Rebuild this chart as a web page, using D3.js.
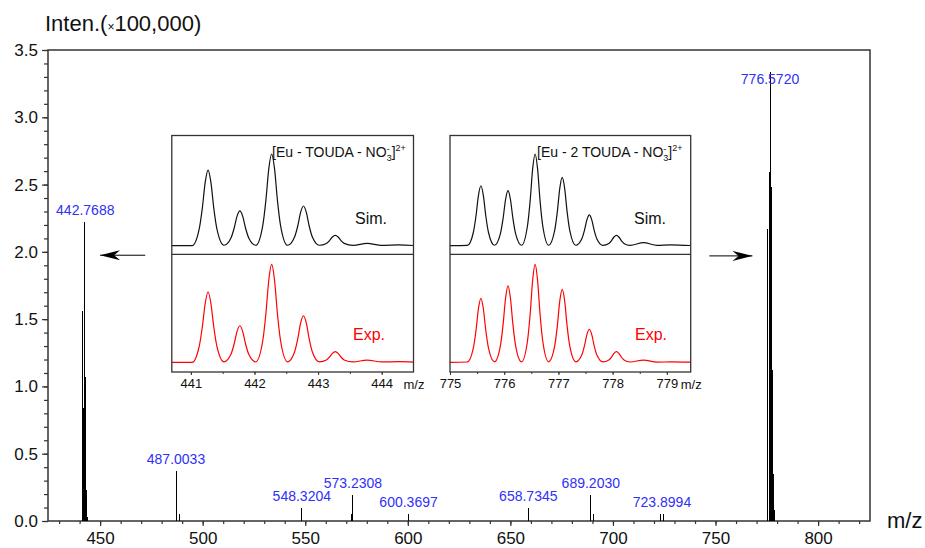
<!DOCTYPE html>
<html>
<head>
<meta charset="utf-8">
<script src="https://cdn.jsdelivr.net/npm/d3@7"></script>
<style>
  body { margin: 0; background: #fff; }
  svg { display: block; }
  text { font-family: "Liberation Sans", Arial, Helvetica, sans-serif; }
</style>
</head>
<body>
<div id="chart"></div>
<script>
// main spectrum, sticks (m/z, intensity x100,000)
const mzMain  = [441.27, 441.77, 442.27, 442.77, 443.27, 443.77, 487.00, 488.70, 548.32, 572.40, 573.23, 600.37,
                 658.73, 689.20, 690.30, 723.40, 724.40, 775.57, 776.07, 776.57, 777.07, 777.57, 778.07, 778.57];
const intMain = [1.56, 0.84, 2.22, 1.07, 0.23, 0.03, 0.37, 0.05, 0.10, 0.05, 0.19, 0.05,
                 0.10, 0.19, 0.05, 0.05, 0.05, 2.17, 2.59, 3.34, 2.48, 1.12, 0.35, 0.08];

// peak labels and the height of the peak they sit on
const peakLabels = ["442.7688", "487.0033", "548.3204", "573.2308", "600.3697", "658.7345", "689.2030", "723.8994", "776.5720"];
const labelInt   = [2.22, 0.37, 0.10, 0.19, 0.05, 0.10, 0.19, 0.05, 3.34];

const xTicks = [450, 500, 550, 600, 650, 700, 750, 800];
const yTicks = [0, 0.5, 1.0, 1.5, 2.0, 2.5, 3.0, 3.5];

// inset 1 profiles (relative intensity)
const mzIn1 = [440.70, 441.02,
  441.13, 441.18, 441.225, 441.27, 441.315, 441.36, 441.41, 441.52,
  441.63, 441.68, 441.725, 441.77, 441.815, 441.86, 441.91, 442.02,
  442.13, 442.18, 442.225, 442.27, 442.315, 442.36, 442.41, 442.52,
  442.63, 442.68, 442.725, 442.77, 442.815, 442.86, 442.91, 443.02,
  443.13, 443.18, 443.225, 443.27, 443.315, 443.36, 443.41,
  443.55, 443.77, 444.00, 444.27, 444.50];
const simIn1 = [0, 0,
  0.18, 0.41, 0.69, 0.825, 0.69, 0.41, 0.18, 0.005,
  0.084, 0.19, 0.32, 0.38, 0.32, 0.19, 0.084, 0.005,
  0.22, 0.50, 0.84, 1.00, 0.84, 0.50, 0.22, 0.005,
  0.095, 0.215, 0.364, 0.433, 0.364, 0.215, 0.095, 0.005,
  0.025, 0.056, 0.095, 0.113, 0.095, 0.056, 0.025,
  0.004, 0.026, 0.004, 0.008, 0.002];
const expIn1 = [0, 0,
  0.16, 0.36, 0.60, 0.72, 0.60, 0.36, 0.16, 0.005,
  0.082, 0.187, 0.313, 0.373, 0.313, 0.187, 0.082, 0.005,
  0.22, 0.50, 0.84, 1.00, 0.84, 0.50, 0.22, 0.005,
  0.105, 0.238, 0.40, 0.475, 0.40, 0.238, 0.105, 0.005,
  0.024, 0.054, 0.091, 0.108, 0.091, 0.054, 0.024,
  0.004, 0.023, 0.004, 0.006, 0.002];
const ticksIn1 = [441, 442, 443, 444];

// inset 2 profiles (relative intensity)
const mzIn2 = [775.00, 775.32,
  775.43, 775.48, 775.525, 775.57, 775.615, 775.66, 775.71, 775.82,
  775.93, 775.98, 776.025, 776.07, 776.115, 776.16, 776.21, 776.32,
  776.43, 776.48, 776.525, 776.57, 776.615, 776.66, 776.71, 776.82,
  776.93, 776.98, 777.025, 777.07, 777.115, 777.16, 777.21, 777.32,
  777.43, 777.48, 777.525, 777.57, 777.615, 777.66, 777.71, 777.82,
  777.93, 777.98, 778.025, 778.07, 778.115, 778.16, 778.21,
  778.32, 778.57, 778.82, 779.07, 779.44];
const simIn2 = [0, 0.003,
  0.144, 0.327, 0.549, 0.654, 0.549, 0.327, 0.144, 0.005,
  0.132, 0.30, 0.504, 0.60, 0.504, 0.30, 0.132, 0.005,
  0.22, 0.50, 0.84, 1.00, 0.84, 0.50, 0.22, 0.005,
  0.164, 0.372, 0.626, 0.745, 0.626, 0.372, 0.164, 0.005,
  0.074, 0.168, 0.282, 0.336, 0.282, 0.168, 0.074, 0.004,
  0.025, 0.056, 0.095, 0.113, 0.095, 0.056, 0.025,
  0.003, 0.033, 0.003, 0.01, 0.002];
const expIn2 = [0, 0.003,
  0.144, 0.327, 0.549, 0.653, 0.549, 0.327, 0.144, 0.005,
  0.171, 0.39, 0.654, 0.779, 0.654, 0.39, 0.171, 0.005,
  0.22, 0.50, 0.84, 1.00, 0.84, 0.50, 0.22, 0.005,
  0.164, 0.372, 0.626, 0.745, 0.626, 0.372, 0.164, 0.005,
  0.074, 0.168, 0.283, 0.337, 0.283, 0.168, 0.074, 0.004,
  0.024, 0.054, 0.091, 0.108, 0.091, 0.054, 0.024,
  0.003, 0.023, 0.002, 0.004, 0.001];
const ticksIn2 = [775, 776, 777, 778, 779];

// arrows pointing from the insets to the clusters: [from m/z, to m/z, at intensity]
const arrows = [[472, 450, 1.975], [747, 768, 1.97]];

const W = 925, H = 548;
const pLeft = 48, pRight = 870, pTop = 50, pBottom = 521;
const axisCol = "#333";
const blue = "#3030f8";

const svg = d3.select("#chart").append("svg")
  .attr("width", W)
  .attr("height", H);

const x = d3.scaleLinear().domain([424.6, 825.3]).range([pLeft, pRight]);
const y = d3.scaleLinear().domain([0, 3.5]).range([pBottom, pTop]);

// minor ticks
svg.append("g")
  .attr("transform", `translate(0,${pBottom})`)
  .call(d3.axisBottom(x).tickValues(d3.range(430, 821, 10)).tickSize(3).tickFormat(""))
  .call(g => g.select(".domain").remove())
  .call(g => g.selectAll("line").attr("stroke", axisCol).attr("stroke-width", 1.2));
svg.append("g")
  .attr("transform", `translate(${pLeft},0)`)
  .call(d3.axisLeft(y).tickValues(d3.range(0, 36).map(d => d / 10)).tickSize(4).tickFormat(""))
  .call(g => g.select(".domain").remove())
  .call(g => g.selectAll("line").attr("stroke", axisCol).attr("stroke-width", 1.2));

// major ticks
svg.append("g")
  .attr("transform", `translate(0,${pBottom})`)
  .call(d3.axisBottom(x).tickValues(xTicks).tickSize(5).tickPadding(6))
  .call(g => g.select(".domain").remove())
  .call(g => g.selectAll("line").attr("stroke", axisCol).attr("stroke-width", 1.2))
  .call(g => g.selectAll("text").attr("font-size", 17).attr("fill", "#111")
    .attr("font-family", "Liberation Sans, Arial, sans-serif"));
svg.append("g")
  .attr("transform", `translate(${pLeft},0)`)
  .call(d3.axisLeft(y).tickValues(yTicks).tickSize(6).tickPadding(4).tickFormat(d3.format(".1f")))
  .call(g => g.select(".domain").remove())
  .call(g => g.selectAll("line").attr("stroke", axisCol).attr("stroke-width", 1.2))
  .call(g => g.selectAll("text").attr("font-size", 17).attr("fill", "#111")
    .attr("font-family", "Liberation Sans, Arial, sans-serif"));

// frame
svg.append("rect")
  .attr("x", pLeft).attr("y", pTop)
  .attr("width", pRight - pLeft).attr("height", pBottom - pTop)
  .attr("fill", "none").attr("stroke", axisCol).attr("stroke-width", 1.5);

// sticks
svg.append("g").selectAll("line")
  .data(mzMain.map((m, i) => [m, intMain[i]]))
  .join("line")
  .attr("x1", d => x(d[0])).attr("x2", d => x(d[0]))
  .attr("y1", y(0)).attr("y2", d => y(d[1]))
  .attr("stroke", "#000").attr("stroke-width", 1)
  .attr("shape-rendering", "crispEdges");

// peak labels
svg.append("g").selectAll("text")
  .data(peakLabels.map((t, i) => [t, labelInt[i]]))
  .join("text")
  .attr("x", d => x(+d[0]))
  .attr("y", d => Math.max(y(d[1]) - 7, pTop + 34))
  .attr("text-anchor", "middle")
  .attr("font-size", 14)
  .attr("fill", blue)
  .text(d => d[0]);

// axis titles
const ttl = svg.append("text").attr("x", 45).attr("y", 31).attr("font-size", 22).attr("fill", "#111");
ttl.append("tspan").text("Inten.(");
ttl.append("tspan").attr("font-size", 12).text("×");
ttl.append("tspan").text("100,000)");
svg.append("text").attr("x", 887).attr("y", 528).attr("font-size", 22).attr("fill", "#111").text("m/z");

// arrows
const defs = svg.append("defs");
defs.append("marker")
  .attr("id", "head")
  .attr("viewBox", "0 0 20 10")
  .attr("refX", 20).attr("refY", 5)
  .attr("markerWidth", 20).attr("markerHeight", 10)
  .attr("markerUnits", "userSpaceOnUse")
  .attr("orient", "auto")
  .append("path")
  .attr("d", "M0,0 L20,5 L0,10 L6,5 Z")
  .attr("fill", "#000");
svg.append("g").selectAll("line")
  .data(arrows)
  .join("line")
  .attr("x1", d => x(d[0])).attr("x2", d => x(d[1]))
  .attr("y1", d => y(d[2])).attr("y2", d => y(d[2]))
  .attr("stroke", "#000").attr("stroke-width", 1)
  .attr("marker-end", "url(#head)");

// insets
function inset(cfg) {
  const g = svg.append("g");
  const ix = d3.scaleLinear().domain(cfg.dom).range([cfg.x0, cfg.x1]);
  const mid = 254.3, t0 = 135.5, b0 = 372;
  const ySim = d3.scaleLinear().domain([0, 1]).range([mid - 8.6, t0 + 18.5]);
  const yExp = d3.scaleLinear().domain([0, 1]).range([b0 - 9.7, mid + 10]);

  const line = (ys) => d3.line().x(d => ix(d[0])).y(d => ys(d[1])).curve(d3.curveMonotoneX);
  g.append("path")
    .attr("d", line(ySim)(cfg.mz.map((m, i) => [m, cfg.sim[i]])))
    .attr("fill", "none").attr("stroke", "#111").attr("stroke-width", 1.2);
  g.append("path")
    .attr("d", line(yExp)(cfg.mz.map((m, i) => [m, cfg.exp[i]])))
    .attr("fill", "none").attr("stroke", "#ff0000").attr("stroke-width", 1.2);

  // ticks
  g.append("g")
    .attr("transform", `translate(0,${b0})`)
    .call(d3.axisBottom(ix).tickValues(d3.range(Math.ceil(cfg.dom[0] * 2) / 2, cfg.dom[1], 0.5)).tickSize(2).tickFormat(""))
    .call(a => a.select(".domain").remove())
    .call(a => a.selectAll("line").attr("stroke", axisCol));
  g.append("g")
    .attr("transform", `translate(0,${b0})`)
    .call(d3.axisBottom(ix).tickValues(cfg.ticks).tickSize(3).tickPadding(4).tickFormat(d3.format("d")))
    .call(a => a.select(".domain").remove())
    .call(a => a.selectAll("line").attr("stroke", axisCol))
    .call(a => a.selectAll("text").attr("font-size", 13).attr("fill", "#111")
      .attr("font-family", "Liberation Sans, Arial, sans-serif"));
  g.append("text").attr("x", cfg.x1 - 10).attr("y", 388.5).attr("font-size", 13).attr("fill", "#111").text("m/z");

  g.append("rect")
    .attr("x", cfg.x0).attr("y", t0)
    .attr("width", cfg.x1 - cfg.x0).attr("height", b0 - t0)
    .attr("fill", "none").attr("stroke", axisCol).attr("stroke-width", 1.3);
  g.append("line")
    .attr("x1", cfg.x0).attr("x2", cfg.x1).attr("y1", mid).attr("y2", mid)
    .attr("stroke", axisCol).attr("stroke-width", 1.3);

  // formula label
  const lab = g.append("text").attr("x", cfg.labX).attr("y", 156.7).attr("font-size", 14).attr("fill", "#111");
  lab.append("tspan").text(cfg.formula);
  lab.append("tspan").attr("font-size", 9).attr("dy", -5).text("-");
  lab.append("tspan").attr("font-size", 9).attr("dx", -3).attr("dy", 9).text("3");
  lab.append("tspan").attr("dy", -4).text("]");
  lab.append("tspan").attr("font-size", 9).attr("dy", -6).text("2+");

  g.append("text").attr("x", cfg.simX).attr("y", 223.5).attr("font-size", 16).attr("fill", "#111").text("Sim.");
  g.append("text").attr("x", cfg.expX).attr("y", 339.5).attr("font-size", 16).attr("fill", "#ff0000").text("Exp.");
}

inset({ x0: 171.8, x1: 413.5, dom: [440.7, 444.5], ticks: ticksIn1, mz: mzIn1, sim: simIn1, exp: expIn1,
        formula: "[Eu - TOUDA - NO", labX: 272, simX: 355, expX: 353 });
inset({ x0: 450, x1: 690.7, dom: [775, 779.44], ticks: ticksIn2, mz: mzIn2, sim: simIn2, exp: expIn2,
        formula: "[Eu - 2 TOUDA - NO", labX: 537, simX: 634, expX: 635 });
</script>
</body>
</html>
